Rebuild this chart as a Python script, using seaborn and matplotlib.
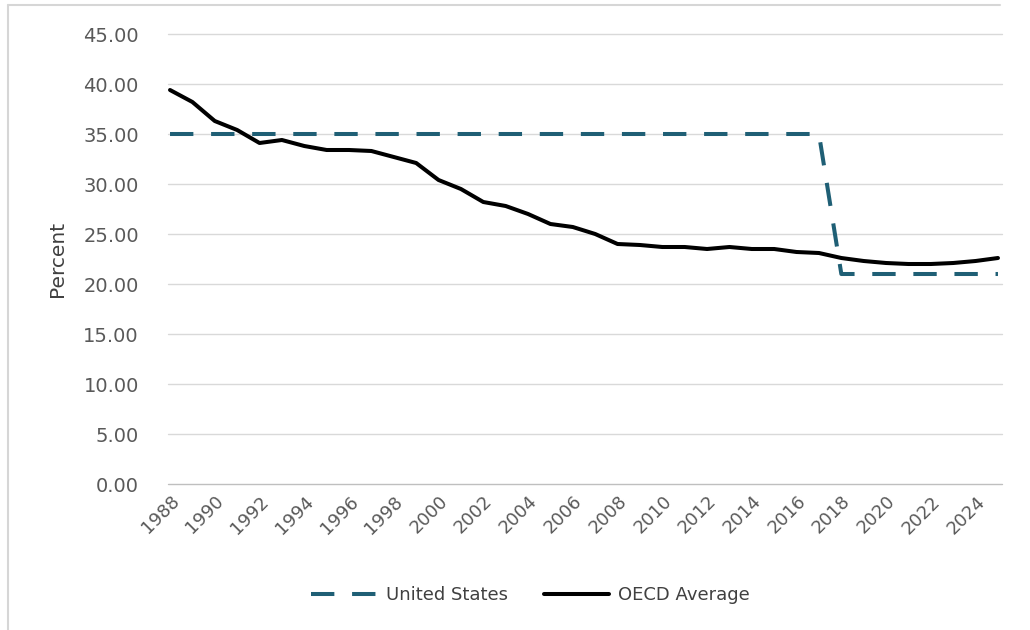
import matplotlib
matplotlib.use("Agg")
import matplotlib.pyplot as plt
import seaborn as sns
import pandas as pd
from matplotlib.lines import Line2D

# Statutory corporate income tax rates, percent
years = list(range(1988, 2026))
us_rate = [35.0] * 30 + [21.0] * 8
oecd_avg = [39.4, 38.2, 36.3, 35.4, 34.1, 34.4, 33.8, 33.4, 33.4, 33.3,
            32.7, 32.1, 30.4, 29.5, 28.2, 27.8, 27.0, 26.0, 25.7, 25.0,
            24.0, 23.9, 23.7, 23.7, 23.5, 23.7, 23.5, 23.5, 23.2, 23.1,
            22.6, 22.3, 22.1, 22.0, 22.0, 22.1, 22.3, 22.6]
series_names = ["United States", "OECD Average"]
tick_years = list(range(1988, 2025, 2))
y_ticks = [0, 5, 10, 15, 20, 25, 30, 35, 40, 45]

df = pd.DataFrame({"year": years, series_names[0]: us_rate, series_names[1]: oecd_avg})

sns.set_theme(style="white")
plt.rcParams["font.family"] = ["DejaVu Sans"]

W, H = 1030, 630
fig = plt.figure(figsize=(W / 100, H / 100), dpi=100)
fig.patch.set_facecolor("white")

left, right, top, bottom = 168, 1002, 34, 484
ax = fig.add_axes([left / W, 1 - bottom / H, (right - left) / W, (bottom - top) / H])

us_color = "#1F5F75"
lw = 2.9

sns.lineplot(data=df, x="year", y=series_names[0], ax=ax, color=us_color,
             linewidth=lw, dashes=False, zorder=3)
ax.lines[-1].set_dashes((5.8, 4.4))
ax.lines[-1].set_dash_capstyle("butt")
sns.lineplot(data=df, x="year", y=series_names[1], ax=ax, color="black",
             linewidth=lw, zorder=4)

ax.set_xlim(1987.91, 2025.18)
ax.set_ylim(0, 45)
ax.set_yticks(y_ticks)
ax.set_yticklabels([f"{v:.2f}" for v in y_ticks])
ax.set_xticks(tick_years)
ax.set_xticklabels([str(y) for y in tick_years], rotation=45, ha="right",
                   rotation_mode="anchor")

for v in y_ticks:
    ax.axhline(v, color="#bfbfbf" if v == 0 else "#d9d9d9", linewidth=1.0,
               zorder=1, clip_on=False)

for s in ax.spines.values():
    s.set_visible(False)
ax.tick_params(axis="y", length=0, pad=21, labelsize=14, labelcolor="#595959")
ax.tick_params(axis="x", length=0, pad=6, labelsize=13, labelcolor="#595959")

ax.set_xlabel("")
ax.set_ylabel("Percent", fontsize=14.5, color="#404040", labelpad=12)

handles = [
    Line2D([0], [0], color=us_color, linewidth=lw, dashes=(5.8, 4.4),
           dash_capstyle="butt"),
    Line2D([0], [0], color="black", linewidth=lw),
]
fig.legend(handles, series_names, loc="center", bbox_to_anchor=(0.515, 1 - 595 / H),
           ncol=2, frameon=False, fontsize=13, handlelength=3.6, handletextpad=0.5,
           columnspacing=2.0, labelcolor="#404040")

# Chart frame edges
fig.add_artist(Line2D([8 / W, 8 / W], [1 - 5 / H, 0], color="#d6d6d6", linewidth=1.5,
                      transform=fig.transFigure))
fig.add_artist(Line2D([8 / W, 1000 / W], [1 - 5 / H, 1 - 5 / H], color="#d6d6d6",
                      linewidth=1.5, transform=fig.transFigure))

fig.savefig("out.png", dpi=100, facecolor="white")
